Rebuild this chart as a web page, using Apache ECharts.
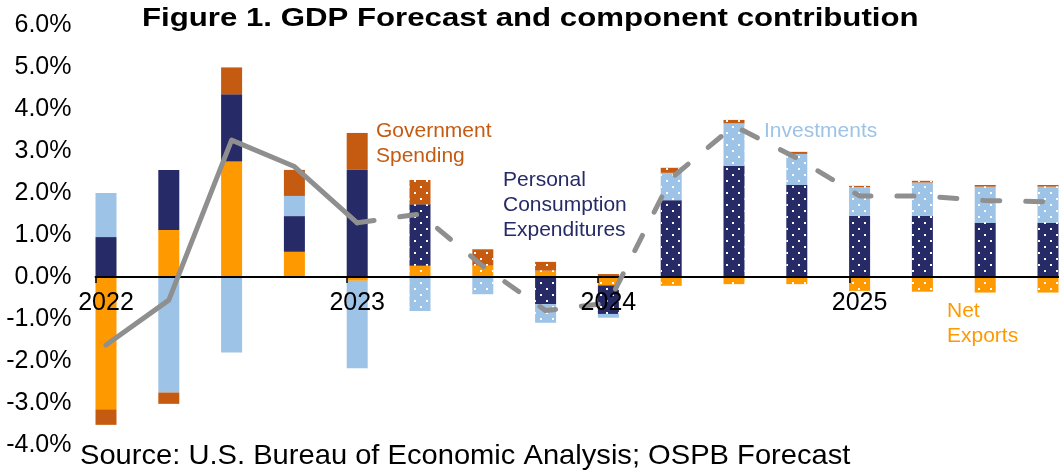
<!DOCTYPE html>
<html>
<head>
<meta charset="utf-8">
<script src="https://cdn.jsdelivr.net/npm/echarts@6/dist/echarts.min.js"></script>
<style>
html,body{margin:0;padding:0;background:#fff;}
#chart{width:1059px;height:470px;}
</style>
</head>
<body>
<div id="chart"></div>
<script>
// ---- data ----
const quarters = ['2022Q1','2022Q2','2022Q3','2022Q4','2023Q1','2023Q2','2023Q3','2023Q4',
                  '2024Q1','2024Q2','2024Q3','2024Q4','2025Q1','2025Q2','2025Q3','2025Q4'];
const yearLabels = ['2022','2023','2024','2025'];
const netExports = [-3.15, 1.12, 2.75, 0.60, -0.09, 0.27, 0.27, 0.15, -0.20, -0.21, -0.17, -0.17, -0.33, -0.35, -0.37, -0.37];
const pce        = [ 0.95, 1.43, 1.60, 0.85,  2.55, 1.46, 0.00, -0.65, -0.68, 1.83, 2.65, 2.19, 1.46, 1.46, 1.29, 1.29];
const investment = [ 1.05, -2.75, -1.80, 0.48, -2.08, -0.81, -0.41, -0.44, -0.09, 0.65, 1.01, 0.74, 0.68, 0.79, 0.86, 0.86];
const government = [-0.37, -0.27, 0.64, 0.62, 0.88, 0.58, 0.39, 0.21, 0.07, 0.12, 0.08, 0.05, 0.03, 0.04, 0.04, 0.04];
const gdp        = [-1.62, -0.55, 3.26, 2.63, 1.29, 1.50, 0.26, -0.80, -0.62, 2.35, 3.60, 2.83, 1.93, 1.93, 1.82, 1.79];
const lastActual = 4;      // 2023Q1 is the last actual quarter
const yMin = -4, yMax = 6, yStep = 1;

// ---- styles ----
const COLORS = { nx:'#FF9900', pce:'#262A66', inv:'#9DC3E6', gov:'#C55A11', gdp:'#8F8F8F' };
const FONT = 'Liberation Sans, Arial, sans-serif';
const W = 1059, H = 470;
const BAND = 62.8;               // px per quarter
const BAR_W = 21;                // bar width px
const halfBar = BAR_W / 2 / BAND;
const PLOT_L = 95.5, PLOT_T = 25, PLOT_B = 25;
const plotH = H - PLOT_T - PLOT_B;
// move the horizontal axis from the plot bottom up to the zero level
const zeroOffset = -plotH * (0 - yMin) / (yMax - yMin);
const decal = {
  symbol:'rect', symbolSize:1, color:'rgba(255,255,255,1)',
  dashArrayX:[[1.4, 9.2],[0, 5.3, 1.4, 3.9]],
  dashArrayY:[1.4, 3.6], rotation:0
};

function barSeries(name, values, color){
  return {
    name, type:'bar', stack:'gdp', barWidth:BAR_W, xAxisIndex:0, yAxisIndex:0,
    itemStyle:{color},
    emphasis:{disabled:true},
    data: values.map((v,i)=>{
      const d = {value:v};
      if(i > lastActual) d.itemStyle = {decal};
      return d;
    }),
    z:2
  };
}

const catLeft = PLOT_L + halfBar * BAND - BAND / 2;
const catRight = W - (catLeft + BAND * quarters.length);

const chart = echarts.init(document.getElementById('chart'));
chart.setOption({
  animation:false,
  backgroundColor:'#fff',
  grid:[
    {left:catLeft, right:catRight, top:PLOT_T, bottom:PLOT_B, outerBoundsMode:'none'},
    {left:PLOT_L, right:0, top:PLOT_T, bottom:PLOT_B, outerBoundsMode:'none'}
  ],
  xAxis:[
    { // categories: bars, line, year labels
      type:'category', gridIndex:0, data:quarters, boundaryGap:true,
      offset:zeroOffset, z:8,
      axisLine:{show:false, onZero:false},
      axisTick:{show:false},
      axisLabel:{
        interval:(idx)=> idx % 4 === 0,
        formatter:(val, idx)=> yearLabels[Math.floor(idx/4)],
        fontSize:25, color:'#000', margin:14, fontFamily:FONT
      },
      splitLine:{show:false}
    },
    { // horizontal axis line with year ticks
      type:'value', gridIndex:1, min:-halfBar, max:quarters.length - 1 + halfBar,
      offset:zeroOffset, z:4,
      axisLine:{show:true, onZero:false, lineStyle:{color:'#000', width:1.8}},
      axisTick:{show:true, length:6, lineStyle:{color:'#000', width:1.5},
        customValues: yearLabels.map((y,k)=>k*4 - halfBar)},
      axisLabel:{show:false},
      splitLine:{show:false}
    }
  ],
  yAxis:[
    {
      type:'value', gridIndex:0, min:yMin, max:yMax, interval:yStep,
      axisLine:{show:false}, axisTick:{show:false}, splitLine:{show:false},
      axisLabel:{show:false}
    },
    {
      type:'value', gridIndex:1, min:yMin, max:yMax, interval:yStep,
      axisLine:{show:false}, axisTick:{show:false}, splitLine:{show:false},
      axisLabel:{formatter: v => v.toFixed(1) + '%', fontSize:25, color:'#000', margin:24, fontFamily:FONT}
    }
  ],
  series:[
    barSeries('Net Exports', netExports, COLORS.nx),
    barSeries('Personal Consumption Expenditures', pce, COLORS.pce),
    barSeries('Investments', investment, COLORS.inv),
    barSeries('Government Spending', government, COLORS.gov),
    {
      name:'GDP', type:'line', showSymbol:false, z:5, xAxisIndex:0, yAxisIndex:0,
      lineStyle:{color:COLORS.gdp, width:5, cap:'round', join:'round'},
      emphasis:{disabled:true},
      data: gdp.map((v,i)=> i <= lastActual ? v : '-')
    },
    {
      name:'GDP Forecast', type:'line', showSymbol:false, z:5, xAxisIndex:0, yAxisIndex:0,
      lineStyle:{color:COLORS.gdp, width:5, type:[17,26], cap:'round', join:'round'},
      emphasis:{disabled:true},
      data: gdp.map((v,i)=> i >= lastActual ? v : '-')
    }
  ],
  graphic:[
    {type:'text', left:142, top:6, z:10, scaleX:1.2, originX:0,
     style:{text:'Figure 1. GDP Forecast and component contribution', fill:'#000', fontSize:26, fontWeight:'bold', fontFamily:FONT}},
    {type:'text', left:376, top:119, z:10, style:{text:'Government\nSpending', fill:COLORS.gov, fontSize:21, lineHeight:25, fontFamily:FONT}},
    {type:'text', left:503, top:168, z:10, style:{text:'Personal\nConsumption\nExpenditures', fill:COLORS.pce, fontSize:21, lineHeight:25, fontFamily:FONT}},
    {type:'text', left:764, top:119, z:10, style:{text:'Investments', fill:COLORS.inv, fontSize:21, lineHeight:25, fontFamily:FONT}},
    {type:'text', left:947, top:299, z:10, style:{text:'Net\nExports', fill:COLORS.nx, fontSize:21, lineHeight:25, fontFamily:FONT}},
    {type:'text', left:80, top:442, z:10, scaleX:1.04, originX:0,
     style:{text:'Source: U.S. Bureau of Economic Analysis; OSPB Forecast', fill:'#000', fontSize:28, fontFamily:FONT}}
  ]
});
</script>
</body>
</html>
